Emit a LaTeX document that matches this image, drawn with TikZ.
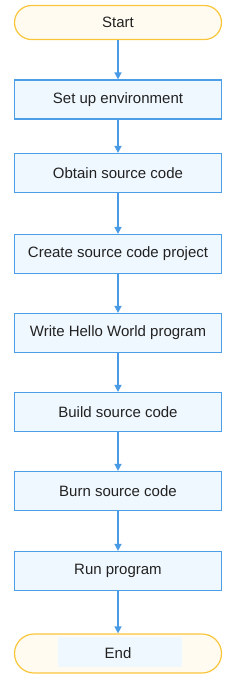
\documentclass[tikz,border=0pt]{standalone}
\usepackage{fontspec}
\setmainfont{Liberation Sans}
\usetikzlibrary{arrows.meta}
\definecolor{bordblue}{HTML}{4C9FE6}
\definecolor{fillblue}{HTML}{F0F8FF}
\definecolor{bordyel}{HTML}{F9C53A}
\definecolor{fillyel}{HTML}{FFFBF0}
\definecolor{arrblue}{HTML}{4A9BE6}
\definecolor{txt}{HTML}{222222}
\tikzset{
  x=1pt,y=-1pt,
  stepbox/.style={draw=bordblue,fill=fillblue,line width=1.2pt,minimum width=207pt,minimum height=39pt,inner sep=0pt,text=txt,font=\fontsize{15}{18}\selectfont},
  term/.style={draw=bordyel,fill=fillyel,line width=1.2pt,rounded corners=17pt,minimum width=207pt,inner sep=0pt,text=txt,font=\fontsize{15}{18}\selectfont},
  conn/.style={draw=arrblue,line width=1.4pt,-{Triangle[length=7pt,width=7pt]}}
}
\begin{document}
\begin{tikzpicture}
\useasboundingbox (0,0) rectangle (242,681);
\node[term,minimum height=34pt] (start) at (118,22.5) {Start};
\node[stepbox] (s1) at (118,99.5) {Set up environment};
\node[stepbox] (s2) at (118,173) {Obtain source code};
\node[stepbox] (s3) at (118,254) {Create source code project};
\node[stepbox] (s4) at (118,333) {Write Hello World program};
\node[stepbox] (s5) at (118,412) {Build source code};
\node[stepbox] (s6) at (118,491) {Burn source code};
\node[stepbox] (s7) at (118,571) {Run program};
\node[term,minimum height=39pt,rounded corners=19.5pt] (end) at (118,653.5) {};
\fill[fillblue] (58,637) rectangle (182,667);
\node[text=txt,font=\fontsize{15}{18}\selectfont] (endlbl) at (end.center) {End};
\draw[conn] (start) -- (s1);
\draw[conn] (s1) -- (s2);
\draw[conn] (s2) -- (s3);
\draw[conn] (s3) -- (s4);
\draw[conn] (s4) -- (s5);
\draw[conn] (s5) -- (s6);
\draw[conn] (s6) -- (s7);
\draw[conn] (s7) -- (end);
\end{tikzpicture}
\end{document}
